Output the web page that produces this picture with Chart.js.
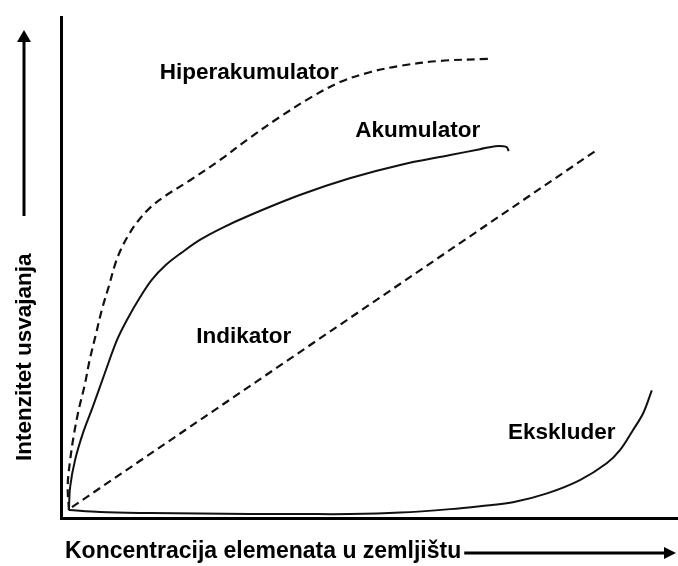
<!DOCTYPE html>
<html>
<head>
<meta charset="utf-8">
<script src="https://cdn.jsdelivr.net/npm/chart.js@4"></script>
<style>
  html, body { margin: 0; padding: 0; background: #fff; }
  #wrap { width: 678px; height: 566px; }
</style>
</head>
<body>
<div id="wrap"><canvas id="chart" width="678" height="566"></canvas></div>
<script>
// curves (arbitrary units 0..100)
var hiperX = [0, -0.2, 0.2, 0.8, 1.6, 2.6, 3.4, 4.4, 5.4, 6.6, 7.7, 8.7, 9.7, 11.2, 13.3, 15.8, 19.9, 24.8, 29.7, 34.6, 39.6, 44.5, 49.4, 54.4, 60.9, 68.8]
var hiperY = [0, 5.1, 10.1, 15.2, 20.3, 25.4, 30.4, 35.5, 40.6, 45.6, 50.3, 53.3, 55.6, 58.4, 61.3, 63.7, 66.9, 71.0, 75.5, 79.7, 83.6, 86.8, 88.8, 90.1, 91.1, 91.5]

var akumX = [0, 0.2, 1.0, 2.3, 3.9, 5.9, 7.9, 9.5, 11.7, 13.6, 15.9, 18.6, 21.5, 25.1, 29.7, 37.9, 46.1, 54.4, 62.6, 67.5, 70.0, 71.3, 71.9, 72.2]
var akumY = [0, 4.7, 10.1, 15.6, 20.9, 27.8, 34.5, 38.5, 43.2, 46.7, 49.7, 52.3, 54.8, 57.2, 59.8, 63.9, 67.3, 70.0, 72.0, 73.2, 73.8, 73.8, 73.6, 72.8]

var indikX = [0.5, 86.4]
var indikY = [0.6, 72.8]

var ekskX = [0, 5.1, 13.3, 21.5, 29.7, 37.9, 46.1, 54.4, 62.6, 67.5, 72.9, 78.5, 83.9, 88.3, 90.5, 92.6, 94.3, 95.7]
var ekskY = [0, -0.4, -0.6, -0.7, -0.8, -0.8, -0.8, -0.5, 0.2, 0.8, 1.6, 3.4, 6.1, 9.5, 12.2, 16.2, 19.7, 24.3]

// curve labels, anchored in data units (left edge, baseline)
var labelNames = ['Hiperakumulator', 'Akumulator', 'Indikator', 'Ekskluder']
var labelX = [14.9, 47.0, 20.9, 72.1]
var labelY = [87.4, 75.7, 33.9, 14.4]

var xTitle = 'Koncentracija elemenata u zemljištu'
var yTitle = 'Intenzitet usvajanja'

var FONT = "bold 22.5px 'Liberation Sans', Arial, sans-serif"
var X_TITLE_FONT = "bold 23px 'Liberation Sans', Arial, sans-serif"

function toPoints(xs, ys) {
    return xs.map(function(x, i) {
        return {x: x, y: ys[i]}
    })
}

function curve(data, dashed) {
    return {
        data: data,
        showLine: true,
        borderColor: '#111',
        borderWidth: dashed ? 2.2 : 2,
        borderDash: dashed ? [8, 5] : [],
        pointRadius: 0,
        tension: 0.35,
        fill: false,
        clip: false
    }
}

function arrowHead(ctx, x, y, dir) {
    ctx.beginPath()
    if (dir == 'up') {
        ctx.moveTo(x, y)
        ctx.lineTo(x - 7, y + 12)
        ctx.lineTo(x + 7, y + 12)
    } else {
        ctx.moveTo(x, y)
        ctx.lineTo(x - 12, y - 6)
        ctx.lineTo(x - 12, y + 6)
    }
    ctx.closePath()
    ctx.fill()
}

var decorations = {
    id: 'decorations',
    afterDraw: function(chart) {
        var ctx = chart.ctx
        var xs = chart.scales.x
        var ys = chart.scales.y
        ctx.save()
        ctx.fillStyle = '#000'
        ctx.strokeStyle = '#000'
        ctx.font = FONT
        ctx.textAlign = 'left'
        ctx.textBaseline = 'alphabetic'

        for (var i = 0; i < labelNames.length; i++) {
            ctx.fillText(labelNames[i], xs.getPixelForValue(labelX[i]), ys.getPixelForValue(labelY[i]))
        }

        // y title + arrow
        ctx.save()
        ctx.translate(31, 461)
        ctx.rotate(-Math.PI / 2)
        ctx.fillText(yTitle, 0, 0)
        ctx.restore()
        ctx.lineWidth = 3
        ctx.beginPath()
        ctx.moveTo(24, 216)
        ctx.lineTo(24, 42)
        ctx.stroke()
        arrowHead(ctx, 24, 30, 'up')

        // x title + arrow
        ctx.font = X_TITLE_FONT
        ctx.fillText(xTitle, 65, 558)
        var tw = ctx.measureText(xTitle).width
        ctx.beginPath()
        ctx.moveTo(65 + tw + 3, 553)
        ctx.lineTo(664, 553)
        ctx.stroke()
        arrowHead(ctx, 676, 553, 'right')

        ctx.restore()
    }
}

new Chart(document.getElementById('chart'), {
    type: 'scatter',
    data: {
        datasets: [
            Object.assign(curve(toPoints(hiperX, hiperY), true), {label: 'Hiperakumulator'}),
            Object.assign(curve(toPoints(akumX, akumY), false), {label: 'Akumulator'}),
            Object.assign(curve(toPoints(indikX, indikY), true), {label: 'Indikator', tension: 0}),
            Object.assign(curve(toPoints(ekskX, ekskY), false), {label: 'Ekskluder'})
        ]
    },
    options: {
        responsive: false,
        animation: false,
        layout: {padding: {left: 53, top: 17, right: 0, bottom: 40}},
        plugins: {legend: {display: false}, tooltip: {enabled: false}},
        scales: {
            x: {
                type: 'linear', min: -1.3, max: 100,
                grid: {display: false},
                ticks: {display: false},
                border: {display: true, color: '#000', width: 3}
            },
            y: {
                type: 'linear', min: -1.6, max: 100,
                grid: {display: false},
                ticks: {display: false},
                border: {display: true, color: '#000', width: 3}
            }
        }
    },
    plugins: [decorations]
})
</script>
</body>
</html>
